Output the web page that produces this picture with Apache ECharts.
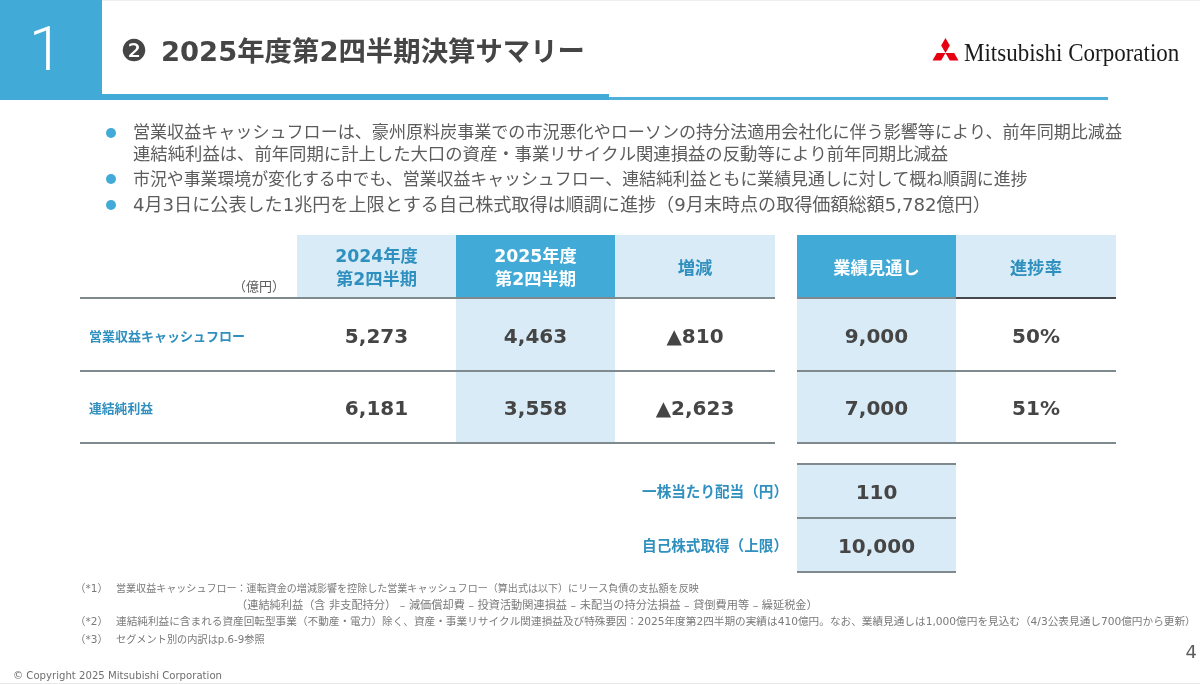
<!DOCTYPE html>
<html lang="ja"><head><meta charset="utf-8">
<style>html,body{margin:0;padding:0;background:#fff}#c{width:1200px;height:684px}</style>
<script src="https://cdn.jsdelivr.net/npm/echarts@6/dist/echarts.min.js"></script>
</head><body><div id="c"></div>
<script>
// ---- data ----
const slideNo = '1';
const pageNo = '4';
const titleMark = '❷';
const titleText = '2025年度第2四半期決算サマリー';
const companyName = 'Mitsubishi Corporation';
const copyrightText = '© Copyright 2025 Mitsubishi Corporation';
const bullets = [
  ['営業収益キャッシュフローは、豪州原料炭事業での市況悪化やローソンの持分法適用会社化に伴う影響等により、前年同期比減益',
   '連結純利益は、前年同期に計上した大口の資産・事業リサイクル関連損益の反動等により前年同期比減益'],
  ['市況や事業環境が変化する中でも、営業収益キャッシュフロー、連結純利益ともに業績見通しに対して概ね順調に進捗'],
  ['4月3日に公表した1兆円を上限とする自己株式取得は順調に進捗（9月末時点の取得価額総額5,782億円）']
];
const unitLabel = '（億円）';
const columnHeaders = ['2024年度\n第2四半期', '2025年度\n第2四半期', '増減', '業績見通し', '進捗率'];
const rowLabels = ['営業収益キャッシュフロー', '連結純利益'];
const values2024 = ['5,273', '6,181'];
const values2025 = ['4,463', '3,558'];
const changes = ['▲810', '▲2,623'];
const forecasts = ['9,000', '7,000'];
const progress = ['50%', '51%'];
const extraLabels = ['一株当たり配当（円）', '自己株式取得（上限）'];
const extraValues = ['110', '10,000'];
const footnotes = [
  ['（*1）', '営業収益キャッシュフロー：運転資金の増減影響を控除した営業キャッシュフロー（算出式は以下）にリース負債の支払額を反映'],
  ['', '（連結純利益（含 非支配持分） – 減価償却費 – 投資活動関連損益 – 未配当の持分法損益 – 貸倒費用等 – 繰延税金）'],
  ['（*2）', '連結純利益に含まれる資産回転型事業（不動産・電力）除く、資産・事業リサイクル関連損益及び特殊要因：2025年度第2四半期の実績は410億円。なお、業績見通しは1,000億円を見込む（4/3公表見通し700億円から更新）'],
  ['（*3）', 'セグメント別の内訳はp.6-9参照']
];

// ---- layout & style ----
const BLUE = '#42AAD7', LIGHT = '#D8EBF6', LABEL = '#2F90BF', DARK = '#454545', GREY = '#5c5c5c', RULE = '#7F8A8F', RULE_DARK = '#45494D';
const FF = '"DejaVu Sans","Noto Sans CJK JP",sans-serif';
const colX = [[297,456],[456,615],[615,775],[797,956],[956,1116]];
const headY = [235,298], rowY = [[298,371],[371,443]], extraY = [[464,518],[518,572]];
const filledCol = [false,true,false,true,false];

const cells = [], rules = [], texts = [];
const addText = (x, y, text, size, color, weight, align) => texts.push({x, y, text, size, color, weight, align});
const cx = c => (colX[c][0] + colX[c][1]) / 2;

columnHeaders.forEach((h, c) => {
  const dark = filledCol[c];
  cells.push([colX[c][0], headY[0], colX[c][1], headY[1], dark ? BLUE : LIGHT]);
  h.split('\n').forEach((ln, i, a) =>
    addText(cx(c), (headY[0] + headY[1]) / 2 + (i - (a.length - 1) / 2) * 23 + 3, ln, 17.3, dark ? '#fff' : LABEL, 'bold', 'center'));
});
[values2024, values2025, changes, forecasts, progress].forEach((col, c) => {
  col.forEach((v, r) => {
    if (filledCol[c]) cells.push([colX[c][0], rowY[r][0], colX[c][1], rowY[r][1], LIGHT]);
    addText(cx(c), (rowY[r][0] + rowY[r][1]) / 2 + 3, v, 20, DARK, 'bold', 'center');
  });
});
const rowLabelSize = [13, 12.8];
rowLabels.forEach((l, r) => addText(89, (rowY[r][0] + rowY[r][1]) / 2 + 3, l, rowLabelSize[r], LABEL, 'bold', 'left'));
extraLabels.forEach((l, r) => {
  cells.push([colX[3][0], extraY[r][0], colX[3][1], extraY[r][1], LIGHT]);
  addText(788, (extraY[r][0] + extraY[r][1]) / 2 + 2, l, 14.6, LABEL, 'bold', 'right');
  addText(cx(3), (extraY[r][0] + extraY[r][1]) / 2 + 2.5, extraValues[r], 20, DARK, 'bold', 'center');
});
[headY[1], rowY[0][1], rowY[1][1]].forEach((y, i) => {
  rules.push([80, y, 775, y, RULE]);
  if (i === 0) {
    rules.push([797, y, 956, y, RULE]);
    rules.push([956, y, 1116, y, RULE_DARK]);
  } else {
    rules.push([797, y, 1116, y, RULE]);
  }
});
[extraY[0][0], extraY[0][1], extraY[1][1]].forEach(y => rules.push([797, y, 956, y, RULE]));
addText(285, 288, unitLabel, 13, GREY, 'normal', 'right');

// bullets
const bulletDotY = [133, 179, 205];
const bulletLineY = [[134,155],[181],[206]];
const bulletSize = [[17.07,17.35],[16.9],[18.1]];
const bulletDots = [];
bullets.forEach((lines, b) => {
  bulletDots.push({type:'circle', shape:{cx:111, cy:bulletDotY[b], r:5}, style:{fill:BLUE}});
  lines.forEach((ln, i) => addText(133, bulletLineY[b][i], ln, bulletSize[b][i], GREY, 'normal', 'left'));
});
// footnotes
const fnY = [589,606,622,640];
const fnSize = [10.05, 11.2, 10.65, 10.2];
footnotes.forEach((f, i) => {
  if (f[0]) addText(75, fnY[i], f[0], 10.5, '#7a7a7a', 'normal', 'left');
  addText(i === 1 ? 236 : 116, fnY[i], f[1], fnSize[i], '#7a7a7a', 'normal', 'left');
});

const diamond = (C, pts) => ({type:'polygon', shape:{points: pts.map(p => [C[0] + p[0], C[1] + p[1]])}, style:{fill:'#E60012'}});
const C = [945.5, 53];

const option = {
  animation: false,
  backgroundColor: '#fff',
  grid: {left:0, right:0, top:0, bottom:0},
  xAxis: {type:'value', min:0, max:1200, show:false},
  yAxis: {type:'value', min:0, max:684, inverse:true, show:false},
  graphic: [
    {type:'rect', shape:{x:0,y:0,width:1200,height:1}, style:{fill:'#eeeeee'}},
    {type:'rect', shape:{x:0,y:683,width:1200,height:1}, style:{fill:'#e8e8e8'}},
    {type:'rect', shape:{x:0,y:0,width:102,height:100}, style:{fill:BLUE}},
    {type:'rect', shape:{x:102,y:94,width:507,height:6}, style:{fill:BLUE}},
    {type:'rect', shape:{x:609,y:97,width:499,height:3}, style:{fill:'#4FB0DA'}},
    {type:'text', style:{x:46, y:54, text:slideNo, fill:'#fff', fontSize:62, fontWeight:300, fontFamily:'Roboto,sans-serif', align:'center', verticalAlign:'middle'}},
    {type:'text', style:{x:134, y:53, text:titleMark, fill:DARK, fontSize:30, fontFamily:FF, align:'center', verticalAlign:'middle'}},
    {type:'text', style:{x:161, y:54, text:titleText, fill:DARK, fontSize:27.4, fontWeight:'bold', fontFamily:FF, align:'left', verticalAlign:'middle'}},
    diamond(C, [[0,0],[4.33,-7.5],[0,-15],[-4.33,-7.5]]),
    diamond(C, [[0,0],[-8.67,0],[-13,7.5],[-4.33,7.5]]),
    diamond(C, [[0,0],[8.67,0],[13,7.5],[4.33,7.5]]),
    {type:'text', x:964, y:54, scaleX:0.92, style:{x:0, y:0, text:companyName, fill:'#1a1a1a', fontSize:25, fontFamily:'"Liberation Serif",serif', align:'left', verticalAlign:'middle'}},
    ...bulletDots,
    {type:'text', style:{x:13, y:676, text:copyrightText, fill:'#6f6f6f', fontSize:10.15, fontFamily:FF, align:'left', verticalAlign:'middle'}},
    {type:'text', style:{x:1197, y:653, text:pageNo, fill:GREY, fontSize:18, fontFamily:FF, align:'right', verticalAlign:'middle'}}
  ],
  series: [
    {type:'custom', name:'cells', silent:true, clip:false, coordinateSystem:'cartesian2d',
     encode:{x:[0,2], y:[1,3]}, data:cells,
     renderItem:(p, api) => {
       const a = api.coord([api.value(0), api.value(1)]), b = api.coord([api.value(2), api.value(3)]);
       return {type:'rect', shape:{x:a[0], y:a[1], width:b[0]-a[0], height:b[1]-a[1]}, style:{fill:cells[p.dataIndex][4]}};
     }},
    {type:'custom', name:'rules', silent:true, clip:false, coordinateSystem:'cartesian2d', z:3,
     encode:{x:[0,2], y:[1,3]}, data:rules,
     renderItem:(p, api) => {
       const a = api.coord([api.value(0), api.value(1)]), b = api.coord([api.value(2), api.value(3)]);
       return {type:'line', shape:{x1:a[0], y1:a[1], x2:b[0], y2:b[1]}, style:{stroke:rules[p.dataIndex][4], lineWidth:2}};
     }},
    {type:'custom', name:'texts', silent:true, clip:false, coordinateSystem:'cartesian2d', z:4,
     encode:{x:0, y:1}, data:texts.map(t => [t.x, t.y]),
     renderItem:(p, api) => {
       const t = texts[p.dataIndex], a = api.coord([api.value(0), api.value(1)]);
       return {type:'text', style:{x:a[0], y:a[1], text:t.text, fill:t.color, fontSize:t.size, fontWeight:t.weight,
         fontFamily:FF, align:t.align, verticalAlign:'middle'}};
     }}
  ]
};
echarts.init(document.getElementById('c')).setOption(option);
</script></body></html>
